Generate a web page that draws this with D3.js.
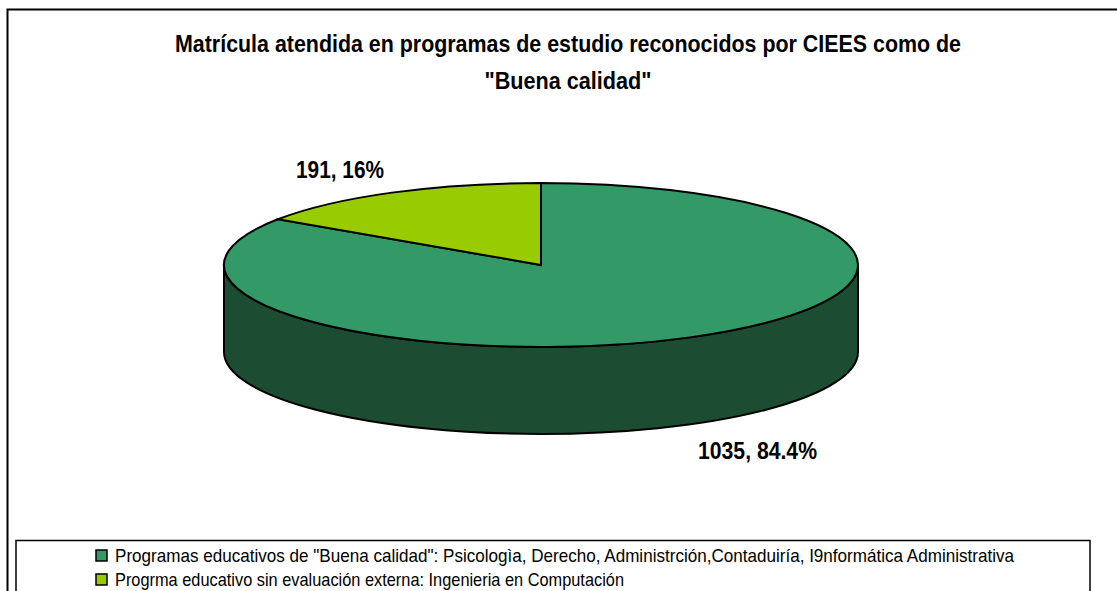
<!DOCTYPE html>
<html>
<head>
<meta charset="utf-8">
<script src="https://cdn.jsdelivr.net/npm/d3@7"></script>
<style>
html,body{margin:0;padding:0;background:#fff;}
svg{display:block;}
text{font-family:"Liberation Sans",Arial,sans-serif;fill:#000;}
</style>
</head>
<body>
<svg id="chart" width="1117" height="591"></svg>
<script>
const titleLines = ['Matrícula atendida en programas de estudio reconocidos por CIEES como de', '"Buena calidad"'];
const categories = ['Programas educativos de "Buena calidad": Psicologìa, Derecho, Administrción,Contaduiría, I9nformática Administrativa',
	'Progrma educativo sin evaluación externa: Ingenieria en Computación'];
const values = [1035, 191];
const valueLabels = ['1035, 84.4%', '191, 16%'];
const colors = ['#339966', '#99cc00'];
const sideColor = '#1c4d33';

const svg = d3.select('#chart');
const cx = 541, cy = 265, rx = 317, ry = 82, depth = 87;

// text is narrower than Liberation, squeeze it to the measured widths
const titleWidths = [786, 167];
const labelWidths = [119, 88];
const legendWidths = [899, 509];

// frame, only top and left show in the picture
svg.append('path').attr('d', 'M7.5,591V9.5H1117').attr('fill', 'none').attr('stroke', '#000').attr('stroke-width', 2);

svg.selectAll('.title').data(titleLines).enter().append('text')
	.attr('class', 'title')
	.attr('x', 568).attr('y', (d, i) => 52 + i * 37)
	.attr('text-anchor', 'middle')
	.attr('font-size', 24).attr('font-weight', 'bold')
	.attr('textLength', (d, i) => titleWidths[i])
	.attr('lengthAdjust', 'spacingAndGlyphs')
	.text(d => d);

// side of the disc
svg.append('path')
	.attr('d', `M${cx - rx},${cy}V${cy + depth}A${rx},${ry} 0 0 0 ${cx + rx},${cy + depth}V${cy}A${rx},${ry} 0 0 1 ${cx - rx},${cy}Z`)
	.attr('fill', sideColor).attr('stroke', '#000').attr('stroke-width', 2);

// slices are drawn on a unit circle then flattened
const pie = d3.pie().sort(null);
const arc = d3.arc().innerRadius(0).outerRadius(1);
svg.append('g').attr('transform', `translate(${cx},${cy}) scale(${rx},${ry})`)
	.selectAll('path').data(pie(values)).enter().append('path')
	.attr('d', arc)
	.attr('fill', (d, i) => colors[i])
	.attr('stroke', '#000').attr('stroke-width', 2)
	.attr('vector-effect', 'non-scaling-stroke');

const labelPos = [[757.5, 459], [340, 178]];
svg.selectAll('.val').data(valueLabels).enter().append('text')
	.attr('class', 'val')
	.attr('x', (d, i) => labelPos[i][0]).attr('y', (d, i) => labelPos[i][1])
	.attr('text-anchor', 'middle')
	.attr('font-size', 24).attr('font-weight', 'bold')
	.attr('textLength', (d, i) => labelWidths[i])
	.attr('lengthAdjust', 'spacingAndGlyphs')
	.text(d => d);

// legend
svg.append('path').attr('d', 'M16,591V540.5H1090V591').attr('fill', '#fff').attr('stroke', '#000').attr('stroke-width', 1.5);
const leg = svg.selectAll('.leg').data(categories).enter().append('g')
	.attr('class', 'leg')
	.attr('transform', (d, i) => `translate(96,${556 + i * 24})`);
leg.append('rect').attr('x', 0).attr('y', -6).attr('width', 11).attr('height', 11)
	.attr('fill', (d, i) => colors[i]).attr('stroke', '#000').attr('stroke-width', 1.5);
leg.append('text').attr('x', 19).attr('y', 6)
	.attr('font-size', 19)
	.attr('textLength', (d, i) => legendWidths[i])
	.attr('lengthAdjust', 'spacingAndGlyphs')
	.text(d => d);
</script>
</body>
</html>
